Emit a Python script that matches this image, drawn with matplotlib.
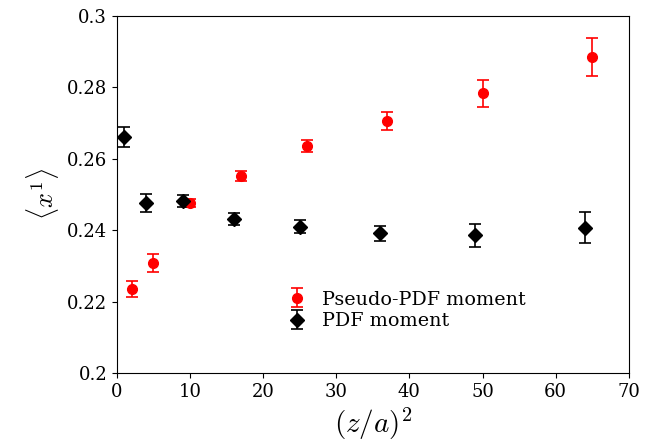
import numpy as np
import matplotlib
matplotlib.use("Agg")
import matplotlib.pyplot as plt

plt.rcParams['font.family'] = 'DejaVu Serif'
plt.rcParams['mathtext.fontset'] = 'cm'

# pseudo-PDF moment
z2_pseudo = [2, 5, 10, 17, 26, 37, 50, 65]
x1_pseudo = [0.2235, 0.2308, 0.2476, 0.2552, 0.2636, 0.2707, 0.2783, 0.2885]
err_pseudo = [0.0022, 0.0026, 0.0012, 0.0013, 0.0018, 0.0025, 0.0037, 0.0053]

# PDF moment
z2_pdf = [1, 4, 9, 16, 25, 36, 49, 64]
x1_pdf = [0.2661, 0.2476, 0.2482, 0.2431, 0.2410, 0.2391, 0.2386, 0.2407]
err_pdf = [0.0028, 0.0026, 0.0016, 0.0017, 0.0019, 0.0022, 0.0032, 0.0044]

fig = plt.figure(figsize=(6.53, 4.45), dpi=100)
ax = fig.add_axes([0.179, 0.162, 0.784, 0.802])

ax.errorbar(z2_pseudo, x1_pseudo, yerr=err_pseudo, fmt='o', color='red',
            markersize=7, capsize=4, elinewidth=1.2, capthick=1.2,
            label='Pseudo-PDF moment')
ax.errorbar(z2_pdf, x1_pdf, yerr=err_pdf, fmt='D', color='black',
            markersize=7, capsize=4, elinewidth=1.2, capthick=1.2,
            label='PDF moment')

ax.set_xlim(0, 70)
ax.set_ylim(0.2, 0.3)
ax.set_yticks([0.2, 0.22, 0.24, 0.26, 0.28, 0.3])
ax.set_yticklabels(['0.2', '0.22', '0.24', '0.26', '0.28', '0.3'])
ax.tick_params(labelsize=13)
ax.set_xlabel(r'$(z/a)^2$', fontsize=21)
ax.set_ylabel(r'$\langle x^1 \rangle$', fontsize=19)

ax.legend(loc='center left', bbox_to_anchor=(0.28, 0.175), frameon=False,
          fontsize=13.8, handletextpad=0.3, labelspacing=0.2)

fig.savefig('out.png', dpi=100)
